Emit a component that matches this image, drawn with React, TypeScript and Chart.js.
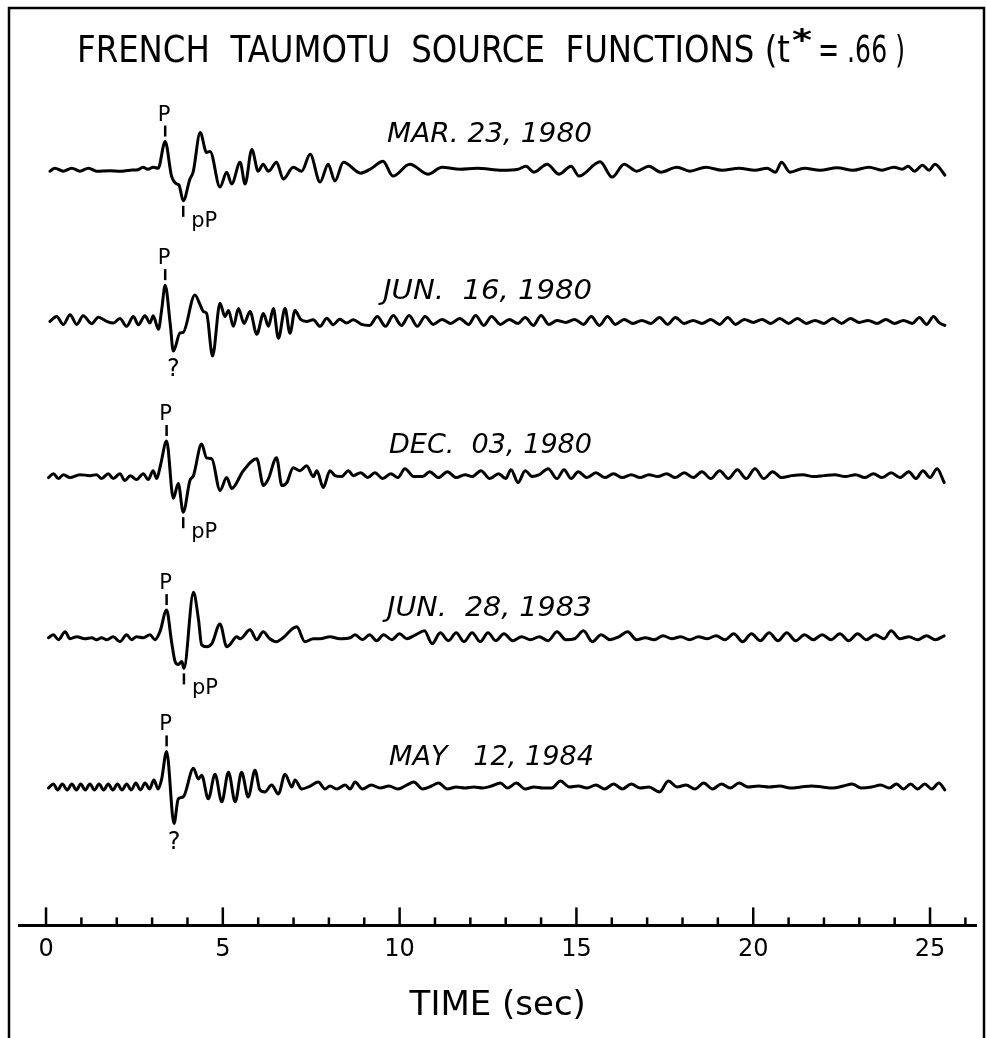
import React, { useEffect, useRef } from "react";
import { Chart, registerables } from "chart.js";

Chart.register(...registerables);

// ---------------- DATA ----------------
const chartTitleMain = "FRENCH  TAUMOTU  SOURCE  FUNCTIONS (t";
const chartTitleStar = "*";
const chartTitleTail = "= .66 )";
const axisTitle = "TIME (sec)";

const eventDates = ["MAR. 23, 1980", "JUN.  16, 1980", "DEC.  03, 1980", "JUN.  28, 1983", "MAY   12, 1984"];

const majorTicks = [0, 5, 10, 15, 20, 25];
const minorTicks = [1, 2, 3, 4, 6, 7, 8, 9, 11, 12, 13, 14, 16, 17, 18, 19, 21, 22, 23, 24, 26];

// [time (s), amplitude] — extrema
const mar1980: [number, number][] = [
  [0.11, -2], [0.25, 1], [0.49, -2], [0.73, 1], [0.96, -2], [1.2, 1], [1.43, -2], [1.81, -1.5], [2.09, -2], [2.38, -1],
  [2.6, -0.5], [2.74, 2], [2.88, 0], [3.03, 2], [3.17, 1], [3.37, 28], [3.55, -7], [3.7, -15], [3.76, -16], [3.88, -32],
  [4.07, -10], [4.16, -3], [4.36, 37], [4.54, 17], [4.64, 18], [4.92, -18], [5.11, -3], [5.25, -15], [5.49, 7], [5.63, -15],
  [5.82, 20], [6.0, -2], [6.14, 5], [6.29, -2], [6.52, 7], [6.71, -10], [6.99, 2], [7.23, -2], [7.47, 15], [7.75, -13],
  [7.98, 5], [8.17, -12], [8.41, 7], [8.9, -4], [9.21, 1], [9.53, 8], [9.81, -7], [10.29, 5], [10.8, -5], [11.2, 2],
  [11.71, 0], [12.19, 1], [12.9, -1], [13.35, 0], [13.57, 3], [13.8, -3], [14.17, 5], [14.51, -5], [14.85, 3], [15.07, -7],
  [15.67, 7.5], [16.01, -8], [16.35, 5], [16.7, -2], [17.05, 3], [17.39, -3], [17.84, 2], [18.21, -2], [18.66, 2], [19.12, -1],
  [19.6, 1], [20.05, -1], [20.39, 1], [20.63, -3], [20.8, 7], [21.04, -3], [21.44, 1], [21.89, -1], [22.37, 1.5], [22.82, -1],
  [23.27, 2], [23.64, -1], [23.98, 2], [24.21, 0], [24.38, 3], [24.56, -2], [24.79, 4], [24.97, -1], [25.14, 5], [25.42, -6],
];

const jun1980: [number, number][] = [
  [0.11, 0], [0.3, 5], [0.49, -3], [0.68, 6.7], [0.87, -3], [1.05, 5.7], [1.29, -2.3], [1.48, 4.3], [1.72, 0], [1.9, -1.7],
  [2.09, 3], [2.28, -5], [2.47, 5], [2.61, -3.3], [2.8, 5.7], [2.94, -1.7], [3.03, 5.7], [3.18, -8], [3.27, 11.7], [3.37, 36.7],
  [3.51, -1.7], [3.6, -30], [3.79, -11.7], [3.88, -11], [4.21, 26.7], [4.36, 16.7], [4.45, 10], [4.54, 8.3], [4.71, -35], [4.92, 18.3],
  [5.06, 5], [5.16, 11], [5.3, -5], [5.44, 13], [5.6, -2], [5.77, 10], [5.96, -13], [6.15, 8], [6.29, -5], [6.43, 13],
  [6.57, -17], [6.76, 13], [6.9, -12], [7.04, 11], [7.2, 2], [7.37, 0], [7.56, 1.7], [7.75, -5], [7.94, 3.3], [8.12, -3.3],
  [8.31, 2.3], [8.5, -1.7], [8.69, 1.7], [8.92, -3], [9.15, -4], [9.37, 5], [9.6, -5], [9.82, 6], [10.05, -4], [10.27, 6],
  [10.5, -5], [10.72, 5], [10.95, -3], [11.2, 2], [11.45, -2], [11.7, 3], [11.95, -3], [12.15, 6], [12.38, -4], [12.6, 5],
  [12.85, -3], [13.1, 2], [13.35, -2], [13.55, 4], [13.78, -4], [14.0, 6], [14.22, -3], [14.45, 1], [14.7, -1], [14.95, 2],
  [15.2, -3], [15.42, 5], [15.65, -4], [15.88, 5], [16.1, -3], [16.35, 2], [16.6, -2], [16.85, 1], [17.1, -2], [17.35, 4],
  [17.58, -3], [17.8, 4], [18.05, -2], [18.3, 1], [18.55, -2], [18.8, 2], [19.05, -3], [19.28, 4], [19.5, -3], [19.75, 2],
  [20.0, -1], [20.25, 2], [20.5, -2], [20.75, 3], [21.0, -2], [21.25, 3], [21.5, -2], [21.75, 1], [22.0, -2], [22.25, 3],
  [22.5, -2], [22.75, 3], [23.0, -1], [23.25, 1], [23.5, -2], [23.75, 2], [24.0, -2], [24.25, 1], [24.5, -2], [24.7, 4],
  [24.9, -3], [25.1, 5], [25.25, -1], [25.42, -4],
];

const dec1980: [number, number][] = [
  [0.07, -2], [0.21, 2], [0.35, -3], [0.49, 1], [0.68, -2], [0.96, 1], [1.24, 0], [1.43, 1], [1.57, -3], [1.76, 2],
  [1.9, -3], [2.09, 2], [2.23, -5], [2.38, 0], [2.56, -4], [2.75, 2], [2.89, -4], [3.03, 5], [3.13, -3], [3.24, 11],
  [3.41, 35], [3.6, -23], [3.74, -8], [3.88, -37], [4.07, -5], [4.17, 0], [4.4, 32], [4.54, 18], [4.69, 17], [4.92, -15],
  [5.11, -2], [5.25, -13], [5.58, 5], [5.96, 17], [6.15, -10], [6.29, -3], [6.52, 18], [6.67, -10], [6.81, -7], [6.99, 8],
  [7.18, 5], [7.37, 10], [7.56, -1], [7.66, 5], [7.84, -12], [8.03, 5], [8.17, 0], [8.36, -1], [8.55, 5], [8.69, 0],
  [8.9, 3], [9.1, -2], [9.3, 3], [9.52, -3], [9.75, 2], [9.95, -2], [10.15, 7], [10.4, -1], [10.65, -1], [10.85, 4],
  [11.1, -2], [11.35, 4], [11.6, -2], [11.85, 1], [12.05, -1], [12.3, 5], [12.55, -3], [12.8, 2], [13.0, -3], [13.15, 6],
  [13.35, -7], [13.55, 5], [13.75, -1], [13.95, 1], [14.2, 7], [14.45, -3], [14.65, 6], [14.85, -3], [15.05, 4], [15.3, -2],
  [15.55, 3], [15.8, -2], [16.05, 2], [16.3, -2], [16.55, 1], [16.8, -2], [17.05, 1], [17.3, -1], [17.55, 2], [17.8, -2],
  [18.05, 3], [18.3, -2], [18.55, 4], [18.8, -3], [19.05, 5], [19.3, -3], [19.55, 6], [19.8, -3], [20.05, 7], [20.3, -3],
  [20.55, 4], [20.8, -2], [21.1, 0], [21.4, 1], [21.7, -1], [22.0, 0], [22.3, 1], [22.6, -1], [22.9, 1], [23.15, -2],
  [23.4, 2], [23.65, -2], [23.9, 3], [24.15, -2], [24.4, 4], [24.6, -3], [24.8, 5], [25.0, -2], [25.2, 7], [25.4, -7],
];

const jun1983: [number, number][] = [
  [0.07, 0], [0.21, 3], [0.35, -2], [0.54, 6], [0.68, -1], [0.87, 1], [1.1, -1], [1.29, 0], [1.43, -2], [1.57, 0],
  [1.72, -2], [1.9, 1], [2.09, -4], [2.28, 3], [2.42, -2], [2.56, 1], [2.75, 0], [2.94, 3], [3.08, -2], [3.22, 6],
  [3.41, 28], [3.55, -4], [3.65, -24], [3.74, -27], [3.84, -24], [3.9, -31], [4.17, 46], [4.31, 19], [4.4, -7], [4.54, -9],
  [4.69, -6], [4.92, 14], [5.11, -9], [5.2, -7], [5.39, 1], [5.49, -1], [5.77, 8], [5.96, -2], [6.14, 6], [6.33, -1],
  [6.52, -4], [6.67, -1], [7.09, 11], [7.32, -4], [7.56, -1], [7.75, -1], [8.03, 1], [8.31, -1], [8.6, 0], [8.74, 3],
  [8.95, -2], [9.15, 3], [9.35, -3], [9.55, 3], [9.78, -2], [10.0, 4], [10.2, -1], [10.45, 3], [10.7, 7], [10.92, -6],
  [11.15, 5], [11.38, -3], [11.6, 5], [11.82, -4], [12.05, 5], [12.28, -4], [12.5, 5], [12.72, -3], [12.95, 4], [13.2, -3],
  [13.45, 1], [13.7, -2], [13.95, 1], [14.2, -3], [14.45, 6], [14.7, -2], [14.95, -1], [15.2, 7], [15.45, -4], [15.7, 3],
  [15.95, -2], [16.2, 1], [16.45, 6], [16.7, -2], [16.95, 0], [17.2, -2], [17.45, 2], [17.7, -1], [17.95, 1], [18.2, -2],
  [18.45, 1], [18.7, -1], [18.95, 2], [19.2, -2], [19.45, 4], [19.7, -4], [19.95, 4], [20.2, -3], [20.45, 5], [20.7, -3],
  [20.95, 5], [21.2, -3], [21.45, 3], [21.7, -2], [21.95, 3], [22.2, -2], [22.45, 4], [22.7, -3], [22.95, 4], [23.2, -2],
  [23.45, 3], [23.7, -1], [23.9, 7], [24.15, -1], [24.4, 1], [24.65, -2], [24.9, 2], [25.15, -2], [25.4, 2],
];

const may1984: [number, number][] = [
  [0.07, -1], [0.21, 3], [0.33, -3], [0.46, 3], [0.6, -3], [0.73, 3], [0.86, -3], [0.98, 3], [1.11, -3], [1.24, 3],
  [1.37, -3], [1.5, 3], [1.63, -3], [1.76, 3], [1.89, -3], [2.02, 3], [2.15, -3], [2.28, 3], [2.41, -3], [2.54, 4],
  [2.67, -3], [2.8, 4], [2.93, -2], [3.05, 7], [3.17, -2], [3.27, 8], [3.41, 36], [3.62, -37], [3.74, -12], [3.88, -10],
  [4.17, 19], [4.31, 8], [4.4, 12], [4.59, -12], [4.78, 13], [4.97, -15], [5.16, 15], [5.35, -15], [5.53, 15], [5.72, -10],
  [5.91, 17], [6.05, -3], [6.19, -5], [6.38, 2], [6.57, -7], [6.76, 13], [6.95, 0], [7.04, 7], [7.23, -2], [7.47, 1],
  [7.7, 5], [7.89, -2], [8.03, 1], [8.22, -2], [8.46, 2], [8.6, -2], [8.74, 5], [8.95, -2], [9.2, 2], [9.45, -1],
  [9.7, 1], [9.95, -2], [10.2, 2], [10.4, 5], [10.65, -2], [10.9, 1], [11.1, 4], [11.35, -2], [11.6, 0], [11.85, -1],
  [12.1, 0], [12.35, -1], [12.6, 1], [12.85, 4], [13.05, -1], [13.3, 4], [13.55, -2], [13.8, 0], [14.05, -1], [14.3, -1],
  [14.55, 6], [14.8, 0], [15.05, 1], [15.3, -1], [15.55, 2], [15.8, -2], [16.05, 3], [16.3, -2], [16.55, 3], [16.8, -1],
  [17.05, 0], [17.35, -5], [17.6, 6], [17.85, 0], [18.1, 2], [18.35, -2], [18.6, 4], [18.85, -2], [19.1, 3], [19.35, -1],
  [19.6, 4], [19.85, 0], [20.15, 1], [20.45, 0], [20.75, 1], [21.05, -1], [21.35, 0], [21.65, 1], [21.95, 0], [22.25, -1],
  [22.55, 1], [22.8, 3], [23.05, -1], [23.35, 0], [23.6, 2], [23.85, -1], [24.05, 3], [24.25, -2], [24.45, 3], [24.65, -2],
  [24.85, 3], [25.05, -2], [25.25, 4], [25.42, -3],
];

const traces = [mar1980, jun1980, dec1980, jun1983, may1984];

// phase picks: P arrival and the second phase (pP or ?)
const pPickTimes = [3.37, 3.37, 3.41, 3.41, 3.41];
const secondPickTimes = [3.88, 3.6, 3.88, 3.9, 3.62];
const secondPickLabels = ["pP", "?", "pP", "pP", "?"];

// ---------------- LAYOUT ----------------
const W = 987;
const H = 1038;
const LAYOUT = {
  padTop: 100,
  axisY: 935,
  baseY: [170, 324, 480, 644, 795],
  labelLift: [37, 32, 33, 32, 32],
  labelLeft: [387, 383, 389, 387, 389],
  labelRight: [592, 592, 592, 592, 594],
};
const FONT = "DejaVu Sans";

function ampAt(trace: [number, number][], t: number) {
  let best = trace[0];
  for (const p of trace) if (Math.abs(p[0] - t) < Math.abs(best[0] - t)) best = p;
  return best[1];
}

function fitText(ctx: CanvasRenderingContext2D, text: string, left: number, right: number, baseline: number, font: string) {
  ctx.font = font;
  const w = ctx.measureText(text).width;
  ctx.save();
  ctx.translate(left, baseline);
  ctx.scale((right - left) / w, 1);
  ctx.textAlign = "left";
  ctx.textBaseline = "alphabetic";
  ctx.fillText(text, 0, 0);
  ctx.restore();
}

const decorPlugin = {
  id: "decor",
  afterDraw(chart: any) {
    const ctx: CanvasRenderingContext2D = chart.ctx;
    const xs = chart.scales.x;
    const ys = chart.scales.y;
    const bottom = chart.chartArea.bottom;
    ctx.save();
    ctx.fillStyle = "#000";
    ctx.strokeStyle = "#000";
    ctx.lineCap = "butt";

    // frame
    ctx.lineWidth = 2.5;
    ctx.beginPath();
    ctx.moveTo(9, H);
    ctx.lineTo(9, 8);
    ctx.lineTo(984, 8);
    ctx.lineTo(984, H);
    ctx.stroke();

    // title
    fitText(ctx, chartTitleMain, 77, 790, 62, `38px ${FONT}`);
    fitText(ctx, chartTitleStar, 792, 812, 50, `bold 30px ${FONT}`);
    fitText(ctx, chartTitleTail, 818, 905, 62, `38px ${FONT}`);

    // axis ticks (drawn up from the axis line)
    ctx.lineWidth = 2.5;
    const allTicks = [...majorTicks.map((v) => [v, 18]), ...minorTicks.map((v) => [v, 8])];
    for (const [v, len] of allTicks) {
      const x = xs.getPixelForValue(v);
      ctx.beginPath();
      ctx.moveTo(x, bottom);
      ctx.lineTo(x, bottom - len);
      ctx.stroke();
    }

    traces.forEach((tr, i) => {
      const base = LAYOUT.axisY - LAYOUT.baseY[i];
      // date label
      const by = ys.getPixelForValue(base);
      fitText(ctx, eventDates[i], LAYOUT.labelLeft[i], LAYOUT.labelRight[i], by - LAYOUT.labelLift[i] + 10, `italic 27px ${FONT}`);

      // P pick
      const px = xs.getPixelForValue(pPickTimes[i]);
      const py = ys.getPixelForValue(base + ampAt(tr, pPickTimes[i]));
      ctx.lineWidth = 2.5;
      ctx.beginPath();
      ctx.moveTo(px, py - 5);
      ctx.lineTo(px, py - 16);
      ctx.stroke();
      ctx.font = `21px ${FONT}`;
      ctx.textAlign = "center";
      ctx.textBaseline = "alphabetic";
      ctx.fillText("P", px - 1, py - 21);

      // second pick
      const sx = xs.getPixelForValue(secondPickTimes[i]);
      const sy = ys.getPixelForValue(base + ampAt(tr, secondPickTimes[i]));
      if (secondPickLabels[i] === "pP") {
        ctx.beginPath();
        ctx.moveTo(sx, sy + 5);
        ctx.lineTo(sx, sy + 16);
        ctx.stroke();
        ctx.font = `21px ${FONT}`;
        ctx.textAlign = "left";
        ctx.fillText("pP", sx + 8, sy + 26);
      } else {
        ctx.font = `24px ${FONT}`;
        ctx.textAlign = "center";
        ctx.fillText("?", sx, sy + 25);
      }
    });
    ctx.restore();
  },
};

export default function App() {
  const ref = useRef<HTMLCanvasElement | null>(null);
  useEffect(() => {
    if (!ref.current) return;
    const datasets = traces.map((tr, i) => ({
      label: eventDates[i],
      data: tr.map(([t, a]) => ({ x: t, y: LAYOUT.axisY - LAYOUT.baseY[i] + a })),
      borderColor: "#000",
      borderWidth: 3,
      pointRadius: 0,
      fill: false,
      cubicInterpolationMode: "monotone" as const,
      borderJoinStyle: "round" as const,
      borderCapStyle: "round" as const,
    }));
    const chart = new Chart(ref.current, {
      type: "line",
      data: { datasets },
      options: {
        animation: false,
        responsive: false,
        devicePixelRatio: 1,
        layout: { padding: { top: LAYOUT.padTop, left: 19.5, right: 11, bottom: 11 } },
        plugins: { legend: { display: false }, tooltip: { enabled: false }, title: { display: false } },
        scales: {
          x: {
            type: "linear",
            min: -0.75,
            max: 26.3,
            afterBuildTicks: (s: any) => {
              s.ticks = majorTicks.map((v) => ({ value: v }));
            },
            grid: { display: true, drawOnChartArea: false, drawTicks: false, color: "rgba(0,0,0,0)" },
            border: { display: true, color: "#000", width: 3 },
            ticks: { color: "#000", font: { family: FONT, size: 24 }, padding: 10, maxRotation: 0, autoSkip: false },
            title: {
              display: true,
              text: axisTitle,
              color: "#000",
              font: { family: FONT, size: 34 },
              padding: { top: 12, bottom: 0 },
            },
          },
          y: { type: "linear", display: false, min: 0, max: LAYOUT.axisY - LAYOUT.padTop },
        },
      },
      plugins: [decorPlugin],
    });
    return () => chart.destroy();
  }, []);
  return (
    <div style={{ position: "absolute", left: 0, top: 0, width: W, height: H, background: "#fff" }}>
      <canvas ref={ref} width={W} height={H} style={{ display: "block" }} />
    </div>
  );
}
